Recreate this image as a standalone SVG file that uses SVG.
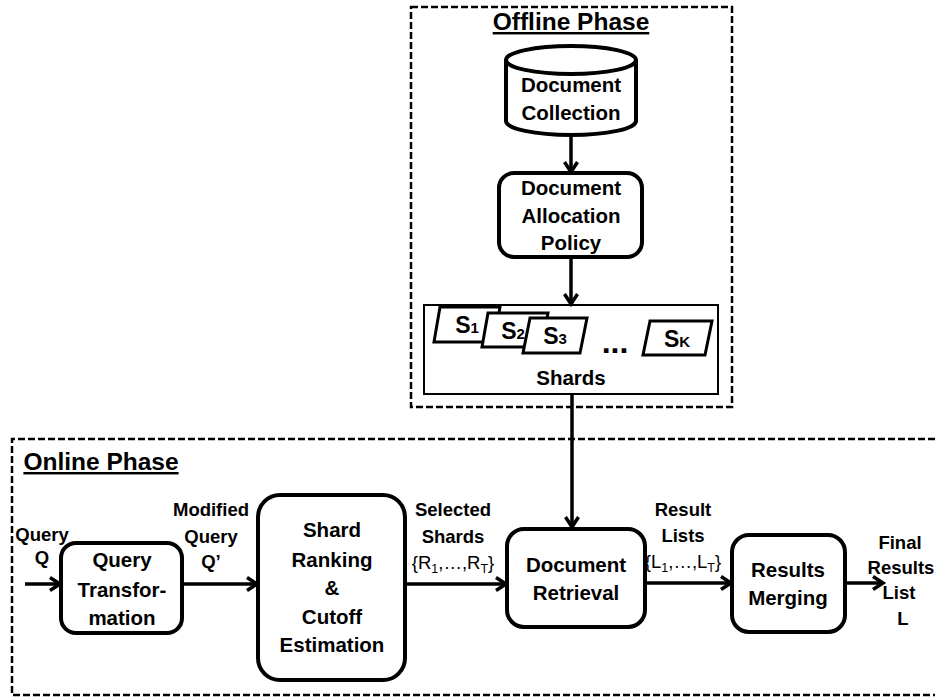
<svg xmlns="http://www.w3.org/2000/svg" width="935" height="698" viewBox="0 0 935 698">
<style>
text{font-family:"Liberation Sans",Arial,sans-serif;font-weight:bold;fill:#000;text-anchor:middle}
.node{fill:#fff;stroke:#000;stroke-width:4}
.phase{fill:none;stroke:#000;stroke-width:2.5;stroke-dasharray:7 3}
.nt{font-size:20.5px}
.lb{font-size:18.5px}
.ttl{font-size:24.5px;text-decoration:underline}
.sh{fill:#fff;stroke:#000;stroke-width:3;stroke-linejoin:miter}
.conn line{stroke:#000;stroke-width:3.5}
.sub{font-size:12.5px}
</style>
<defs>
<marker id="ah" markerUnits="userSpaceOnUse" markerWidth="16" markerHeight="18" refX="12" refY="8" orient="auto">
<path d="M2,1.5 L12,8 L2,14.5" fill="none" stroke="#000" stroke-width="3.5"/>
</marker>
</defs>
<rect width="935" height="698" fill="#fff"/>

<g id="offline-phase">
<rect class="phase" x="411" y="7" width="321" height="400"/>
<text class="ttl" x="571" y="30">Offline Phase</text>
</g>
<g id="online-phase">
<path class="phase" d="M945,439 L12,439 L12,695 L945,695"/>
<text class="ttl" x="101" y="470">Online Phase</text>
</g>

<g id="document-collection">
<path class="node" d="M506,60 L506,121 A65,14 0 0 0 636,121 L636,60"/>
<ellipse class="node" cx="571" cy="60" rx="65" ry="14"/>
<text class="nt" x="571" y="92">Document</text>
<text class="nt" x="571" y="120">Collection</text>
</g>

<g id="document-allocation-policy">
<rect class="node" x="499" y="173" width="143" height="84" rx="15"/>
<text class="nt" x="571" y="195">Document</text>
<text class="nt" x="571" y="223">Allocation</text>
<text class="nt" x="571" y="250">Policy</text>
</g>

<g id="shards">
<rect x="424" y="305" width="294" height="89" fill="#fff" stroke="#000" stroke-width="2"/>
<polygon class="sh" points="440,307 500,307 494,342 434,342"/>
<text x="467" y="333" style="font-size:23px">S<tspan style="font-size:15px">1</tspan></text>
<polygon class="sh" points="488,313 548,313 542,347 482,347"/>
<text x="513" y="339" style="font-size:23px">S<tspan style="font-size:15px">2</tspan></text>
<polygon class="sh" points="530,318 587,318 580,353 523,353"/>
<text x="555" y="344" style="font-size:23px">S<tspan style="font-size:15px">3</tspan></text>
<text x="615" y="353" style="font-size:32px">...</text>
<polygon class="sh" points="650,321 712,321 705,355 643,355"/>
<text x="677" y="347" style="font-size:23px">S<tspan style="font-size:15px">K</tspan></text>
<text class="nt" x="571" y="385">Shards</text>
</g>

<g id="query-transformation">
<rect class="node" x="61" y="543" width="121" height="90" rx="15"/>
<text class="nt" x="122" y="567">Query</text>
<text class="nt" x="122" y="597">Transfor-</text>
<text class="nt" x="122" y="625">mation</text>
</g>

<g id="shard-ranking">
<rect class="node" x="258" y="495" width="147" height="185" rx="22"/>
<text class="nt" x="332" y="537">Shard</text>
<text class="nt" x="332" y="567">Ranking</text>
<text class="nt" x="332" y="595">&amp;</text>
<text class="nt" x="332" y="624">Cutoff</text>
<text class="nt" x="332" y="652">Estimation</text>
</g>

<g id="document-retrieval">
<rect class="node" x="507" y="529" width="138" height="98" rx="17"/>
<text class="nt" x="576" y="572">Document</text>
<text class="nt" x="576" y="600">Retrieval</text>
</g>

<g id="results-merging">
<rect class="node" x="732" y="535" width="113" height="97" rx="17"/>
<text class="nt" x="788" y="577">Results</text>
<text class="nt" x="788" y="605">Merging</text>
</g>

<g id="connectors" class="conn">
<line x1="571" y1="135" x2="571" y2="172" marker-end="url(#ah)"/>
<line x1="571" y1="257" x2="571" y2="304" marker-end="url(#ah)"/>
<line x1="572" y1="394" x2="572" y2="527" marker-end="url(#ah)"/>
<line x1="25" y1="584" x2="60" y2="584" marker-end="url(#ah)"/>
<line x1="182" y1="584" x2="257" y2="584" marker-end="url(#ah)"/>
<line x1="405" y1="584" x2="506" y2="584" marker-end="url(#ah)"/>
<line x1="645" y1="583" x2="731" y2="583" marker-end="url(#ah)"/>
<line x1="845" y1="583" x2="883" y2="583" marker-end="url(#ah)"/>
</g>

<g id="labels">
<text class="lb" x="42" y="541">Query</text>
<text class="lb" x="42" y="564">Q</text>
<text class="lb" x="211" y="516">Modified</text>
<text class="lb" x="211" y="543">Query</text>
<text class="lb" x="211" y="568">Q’</text>
<text class="lb" x="453" y="516">Selected</text>
<text class="lb" x="453" y="543">Shards</text>
<text class="lb" x="453" y="569" style="font-weight:normal">{R<tspan class="sub" dy="4">1</tspan><tspan dy="-4">,…,R</tspan><tspan class="sub" dy="4">T</tspan><tspan dy="-4">}</tspan></text>
<text class="lb" x="683" y="516">Result</text>
<text class="lb" x="683" y="542">Lists</text>
<text class="lb" x="683" y="568" style="font-weight:normal">{L<tspan class="sub" dy="4">1</tspan><tspan dy="-4">,…,L</tspan><tspan class="sub" dy="4">T</tspan><tspan dy="-4">}</tspan></text>
<text class="lb" x="900" y="549">Final</text>
<text class="lb" x="901" y="574">Results</text>
<text class="lb" x="899" y="599">List</text>
<text class="lb" x="903" y="625">L</text>
</g>
</svg>
